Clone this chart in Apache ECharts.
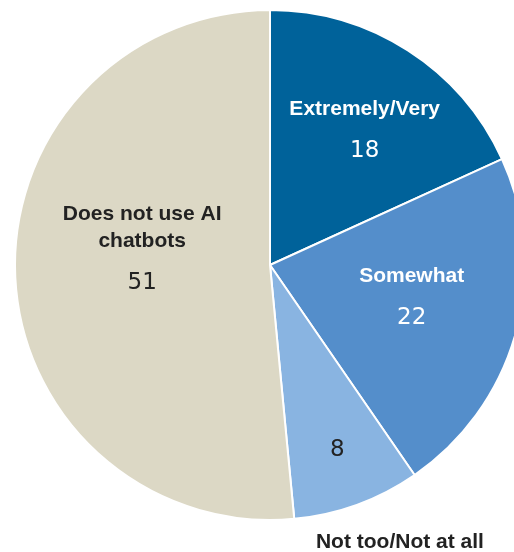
<!DOCTYPE html>
<html>
<head>
<meta charset="utf-8">
<script src="https://cdn.jsdelivr.net/npm/echarts@6/dist/echarts.min.js"></script>
<style>
  html, body { margin: 0; padding: 0; background: #fff; }
  #chart { width: 514px; height: 552px; }
</style>
</head>
<body>
<div id="chart"></div>
<script>
  // slices, clockwise from 12 o'clock
  const categories = ['Extremely/Very', 'Somewhat', 'Not too/Not at all', 'Does not use AI\nchatbots']
  const values = [18, 22, 8, 51]
  const colors = ['#00629A', '#548ECB', '#89B4E1', '#DCD8C5']

  const center = [270, 265]
  const pieRadius = 255

  let mychart = echarts.init(document.getElementById('chart'))

  const richStyle = (color) => ({
    n: { fontFamily: 'Liberation Sans', fontWeight: 'bold', fontSize: 21, lineHeight: 27, color: color },
    v: { fontFamily: 'DejaVu Sans', fontSize: 23, lineHeight: 56, color: color }
  })

  // one transparent ring per label, so each label sits at its own distance
  function labelSeries (idx, r, opts) {
    return {
      type: 'pie',
      silent: true,
      center: center,
      radius: [r - 1, r + 1],
      startAngle: 90,
      clockwise: true,
      animation: false,
      itemStyle: { color: 'transparent' },
      labelLine: { show: false },
      emphasis: { disabled: true },
      data: categories.map((name, i) => ({
        name: name,
        value: values[i],
        label: {
          show: i === idx,
          position: 'inside',
          formatter: opts.formatter,
          padding: opts.padding || 0,
          rich: richStyle(opts.color),
          color: opts.color
        }
      }))
    }
  }

  let option = {
    animation: false,
    series: [
      {
        type: 'pie',
        silent: true,
        center: center,
        radius: pieRadius,
        startAngle: 90,
        clockwise: true,
        label: { show: false },
        labelLine: { show: false },
        emphasis: { disabled: true },
        itemStyle: { borderColor: '#fff', borderWidth: 2 },
        data: categories.map((name, i) => ({ name: name, value: values[i], itemStyle: { color: colors[i] } }))
      },
      labelSeries(0, 149, { color: '#fff', formatter: '{n|{b}}\n{v|{c}}', padding: [0, 0, 0, 25] }),
      labelSeries(1, 144, { color: '#fff', formatter: '{n|{b}}\n{v|{c}}' }),
      labelSeries(2, 194, { color: '#222', formatter: '{v|{c}}' }),
      labelSeries(2, 292, { color: '#222', formatter: '{n|{b}}', padding: [0, 0, 0, 58] }),
      labelSeries(3, 125, { color: '#222', formatter: '{n|{b}}\n{v|{c}}', padding: [0, 0, 30, 0] })
    ]
  }
  mychart.setOption(option)
</script>
</body>
</html>
